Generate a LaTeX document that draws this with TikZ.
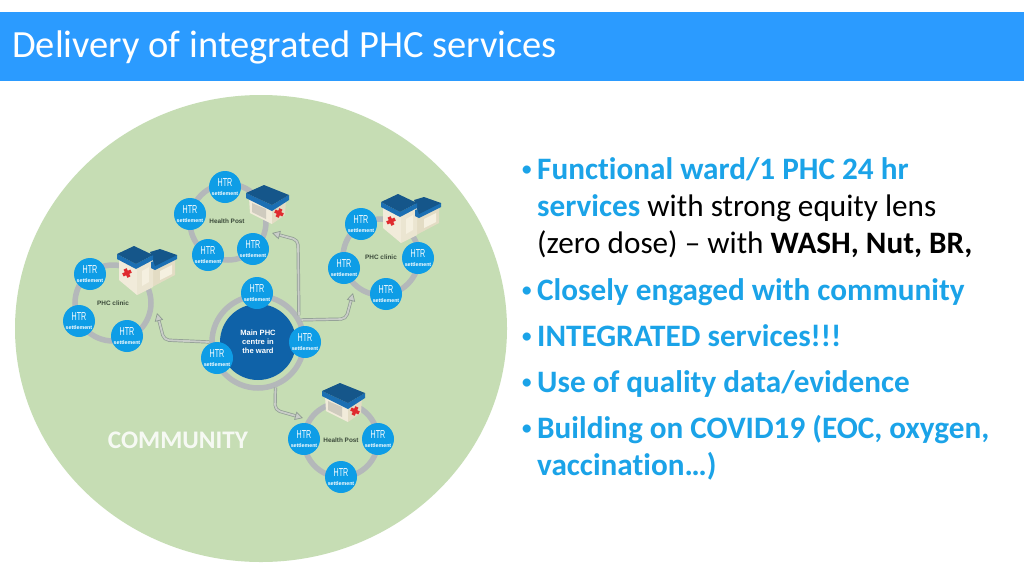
\documentclass[tikz,border=0pt]{standalone}
\usepackage{fontspec}
\setmainfont{Carlito}[Ligatures=NoCommon]
\newfontfamily\arialf{Liberation Sans}
\newfontfamily\narrowf[FakeStretch=0.62]{Liberation Sans}
\usetikzlibrary{arrows.meta}
\definecolor{headblue}{HTML}{2B9BFF}
\definecolor{commgreen}{HTML}{C6DDB4}
\definecolor{htrblue}{HTML}{0E9DE6}
\definecolor{darkblue}{HTML}{0F62A8}
\definecolor{ringgray}{HTML}{B4B8BA}
\definecolor{textblue}{HTML}{1BA3E8}
\definecolor{labelgreen}{HTML}{3B4A3A}
\definecolor{arrowout}{HTML}{8F9C92}
\definecolor{arrowin}{HTML}{C9CDC8}
\definecolor{roofdark}{HTML}{15568A}
\definecolor{roofside}{HTML}{1B6FB3}
\definecolor{wallleft}{HTML}{F1EBDA}
\definecolor{wallright}{HTML}{E3DCC4}
\definecolor{winpale}{HTML}{F5F0E0}
\definecolor{wingray}{HTML}{CFCBBE}
\definecolor{crossred}{HTML}{DF2A2E}
\tikzset{
  htr/.style={circle,fill=htrblue,text=white,minimum size=32pt,inner sep=0pt,align=center},
  ringline/.style={circle,draw=ringgray,line width=5.5pt,inner sep=0pt},
  placelabel/.style={text=labelgreen,font=\arialf\bfseries\fontsize{6.4}{7}\selectfont,inner sep=0pt},
  bodyline/.style={anchor=base west,inner sep=0pt,font=\fontsize{31.2}{34}\selectfont},
  bulletmark/.style={anchor=base west,inner sep=0pt,font=\fontsize{23}{25}\selectfont,text=textblue},
  arrowouter/.style={draw=arrowout,line width=3.2pt,rounded corners=5pt,shorten >=5pt},
  arrowinner/.style={draw=arrowin,line width=1.8pt,rounded corners=5pt,
    -{Triangle[length=8pt,width=8.5pt,fill=arrowin,color=arrowout,line width=.7pt]}},
}
\newcommand{\htrtext}{{\narrowf\fontsize{11.5}{10}\selectfont HTR}\\[-2.5pt]{\arialf\bfseries\fontsize{5.3}{6}\selectfont settlement}}
\newcommand{\redcross}[3]{\begin{scope}[rotate around={#3:(#1,#2)}]
  \fill[crossred] (#1-4.5,#2-1.7) rectangle (#1+4.5,#2+1.7);
  \fill[crossred] (#1-1.7,#2-4.5) rectangle (#1+1.7,#2+4.5);
\end{scope}}
% drawn at the top health post position; the shift moves it
\newcommand{\healthbuilding}{%
  \fill[wallleft] (249,198) -- (272,210) -- (272,224) -- (250,213) -- cycle;
  \fill[wallright] (272,210) -- (286,200) -- (285,215) -- (272,224) -- cycle;
  \fill[wingray] (252,203) -- (266,209) -- (266,219) -- (252,212) -- cycle;
  \redcross{279}{213}{-25}
  \fill[roofside] (246,193) -- (272,205) -- (289,195) -- (289,200) -- (272,211) -- (246,198) -- cycle;
  \fill[roofdark] (246,193) -- (264,185) -- (289,195) -- (272,205) -- cycle;
}
% drawn at the left clinic position
\newcommand{\clinicbuilding}{%
  \fill[wallright] (137,268) -- (153,260) -- (155,268) -- (175,258) -- (175,275) -- (137,295) -- cycle;
  \fill[wallleft] (119,259) -- (137,268) -- (137,295) -- (119,280) -- cycle;
  \fill[wallleft!60!wallright] (137,268) -- (153,260) -- (153,287) -- (137,295) -- cycle;
  \fill[winpale] (142,271) -- (149,267) -- (149,282) -- (142,286) -- cycle;
  \fill[winpale] (160,271) -- (172,265) -- (172,274) -- (160,280) -- cycle;
  \redcross{127}{273}{25}
  \fill[roofside] (151,262) -- (177,255) -- (177,259) -- (155,270) -- (151,268) -- cycle;
  \fill[roofdark] (150,252) -- (160,249) -- (177,255) -- (155,266) -- cycle;
  \fill[roofside] (117,254) -- (136,264) -- (153,255) -- (153,260) -- (136,269) -- (117,259) -- cycle;
  \fill[roofdark] (117,254) -- (134,246) -- (153,255) -- (136,264) -- cycle;
}
\begin{document}
\begin{tikzpicture}[x=1pt,y=-1pt]
\useasboundingbox (0,0) rectangle (1024,576);
\fill[white] (0,0) rectangle (1024,576);
% header
\fill[headblue] (0,12) rectangle (1024,81);
\node[anchor=base west,inner sep=0pt,text=white,font=\fontsize{38.5}{42}\selectfont] (title) at (12,57.5) {Delivery of integrated PHC services};
% community
\fill[commgreen] (261,328.5) ellipse [x radius=246,y radius=233.5];
\node[text=white,opacity=.85,inner sep=0pt,font=\bfseries\fontsize{25.3}{28}\selectfont] (community) at (178,440) {COMMUNITY};

% rings
\node[ringline,minimum size=76pt] (ringhp1) at (228,222) {};
\node[ringline,minimum size=76pt] (ringcl1) at (113,303) {};
\node[ringline,minimum size=76pt] (ringcl2) at (381,257) {};
\node[ringline,minimum size=74pt] (ringhp2) at (341,440) {};
\node[ringline,minimum size=92pt] (ringmain) at (258,342) {};

% connector bends and ends
\coordinate (upbend) at (298,240);
\coordinate (uptip) at (272,233);
\coordinate (rightbend) at (346,319);
\coordinate (righttip) at (353,293);
\coordinate (leftbend) at (164,340);
\coordinate (lefttip) at (157,313);
\coordinate (downbend) at (275,410);
\coordinate (downtip) at (303,418);
% connectors
\draw[arrowouter] (ringmain.33) -- (upbend) -- (uptip);
\draw[arrowinner] (ringmain.33) -- (upbend) -- (uptip);
\draw[arrowouter] (ringmain.27) -- (rightbend) -- (righttip);
\draw[arrowinner] (ringmain.27) -- (rightbend) -- (righttip);
\draw[arrowouter] (ringmain.180) -- (leftbend) -- (lefttip);
\draw[arrowinner] (ringmain.180) -- (leftbend) -- (lefttip);
\draw[arrowouter] (ringmain.-69) -- (downbend) -- (downtip);
\draw[arrowinner] (ringmain.-69) -- (downbend) -- (downtip);

% main centre
\node[circle,fill=darkblue,text=white,minimum size=76pt,inner sep=0pt,align=center,
  font=\arialf\bfseries\fontsize{7.6}{9.2}\selectfont] (mainphc) at (258,342) {Main PHC\\centre in\\the ward};

% buildings
\healthbuilding
\begin{scope}[shift={(76,198)}]\healthbuilding\end{scope}
\clinicbuilding
\begin{scope}[shift={(264,-52)}]\clinicbuilding\end{scope}

% place labels
\node[placelabel] (hp1label) at (227,221.5) {Health Post};
\node[placelabel] (cl1label) at (113,303) {PHC clinic};
\node[placelabel] (cl2label) at (381,257) {PHC clinic};
\node[placelabel] (hp2label) at (341,440) {Health Post};

% settlements
\node[htr] (a1) at (225,187) {\htrtext};
\node[htr] (a2) at (190,214) {\htrtext};
\node[htr] (a3) at (208,255) {\htrtext};
\node[htr] (a4) at (253,249) {\htrtext};
\node[htr] (b1) at (90,274) {\htrtext};
\node[htr] (b2) at (79,321) {\htrtext};
\node[htr] (b3) at (127,336) {\htrtext};
\node[htr] (c1) at (361,224) {\htrtext};
\node[htr] (c2) at (344,268) {\htrtext};
\node[htr] (c3) at (386,294) {\htrtext};
\node[htr] (c4) at (418,258) {\htrtext};
\node[htr] (d1) at (304,439) {\htrtext};
\node[htr] (d2) at (378,439) {\htrtext};
\node[htr] (d3) at (341,477) {\htrtext};
\node[htr] (m1) at (257,293) {\htrtext};
\node[htr] (m2) at (305,342) {\htrtext};
\node[htr] (m3) at (217,358) {\htrtext};

% bullet list
\node[bulletmark] (bu1) at (521,176) {•};
\node[bulletmark] (bu2) at (521,297) {•};
\node[bulletmark] (bu3) at (521,343) {•};
\node[bulletmark] (bu4) at (521,389) {•};
\node[bulletmark] (bu5) at (521,435) {•};
\node[bodyline,text=textblue] (t1) at (537,179) {\bfseries Functional ward/1 PHC 24 hr};
\node[bodyline,text=black] (t2) at (537,216) {\textcolor{textblue}{\bfseries services} with strong equity lens};
\node[bodyline,text=black] (t3) at (537,253) {(zero dose) – with \textbf{WASH, Nut, BR,}};
\node[bodyline,text=textblue] (t4) at (537,300) {\bfseries Closely engaged with community};
\node[bodyline,text=textblue] (t5) at (537,346) {\bfseries INTEGRATED services!!!};
\node[bodyline,text=textblue] (t6) at (537,392) {\bfseries Use of quality data/evidence};
\node[bodyline,text=textblue] (t7) at (537,438) {\bfseries Building on COVID19 (EOC, oxygen,};
\node[bodyline,text=textblue] (t8) at (537,475) {\bfseries vaccination…)};
\end{tikzpicture}
\end{document}
